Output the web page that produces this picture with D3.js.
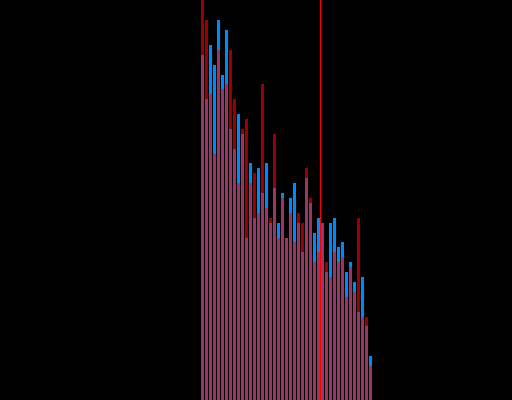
<!DOCTYPE html>
<html>
<head>
<meta charset="utf-8">
<script src="https://cdn.jsdelivr.net/npm/d3@7/dist/d3.min.js"></script>
<style>
  html, body { margin: 0; padding: 0; background: #000; }
  svg { display: block; }
</style>
</head>
<body>
<script>
const categories = d3.range(1, 44);
const blueValues = [345,301,355,335,380,325,370,271,251,286,266,162,237,182,232,207,237,177,212,177,207,162,202,217,177,148,222,197,167,182,177,128,177,182,153,158,128,138,118,88,123,74,44];
const redValues  = [400,380,306,246,350,311,316,350,301,217,271,281,217,227,187,316,192,182,266,162,202,162,187,158,187,177,232,202,138,148,177,138,123,148,138,143,103,133,108,182,83,83,34];
const markerPosition = 29.75;

const W = 512, H = 400;
const svg = d3.select("body").append("svg").attr("width", W).attr("height", H);
svg.append("rect").attr("width", W).attr("height", H).attr("fill", "#000");

const x = d3.scaleLinear().domain([0, categories.length]).range([201, 373]);
const barW = (x(1) - x(0)) * 0.75;
const y = d3.scaleLinear().domain([0, 400]).range([H, 0]);

svg.append("g").selectAll("rect").data(blueValues).join("rect")
  .attr("x", (d, i) => x(i))
  .attr("y", d => y(d))
  .attr("width", barW)
  .attr("height", d => H - y(d))
  .attr("fill", "#0088ff");

svg.append("g").selectAll("rect").data(redValues).join("rect")
  .attr("x", (d, i) => x(i))
  .attr("y", d => y(d))
  .attr("width", barW)
  .attr("height", d => H - y(d))
  .attr("fill", "#ff0000")
  .attr("fill-opacity", 0.6);

svg.append("line")
  .attr("x1", x(markerPosition) + 0.5).attr("x2", x(markerPosition) + 0.5)
  .attr("y1", 0).attr("y2", H)
  .attr("stroke", "#ff0000").attr("stroke-width", 1);
</script>
</body>
</html>
